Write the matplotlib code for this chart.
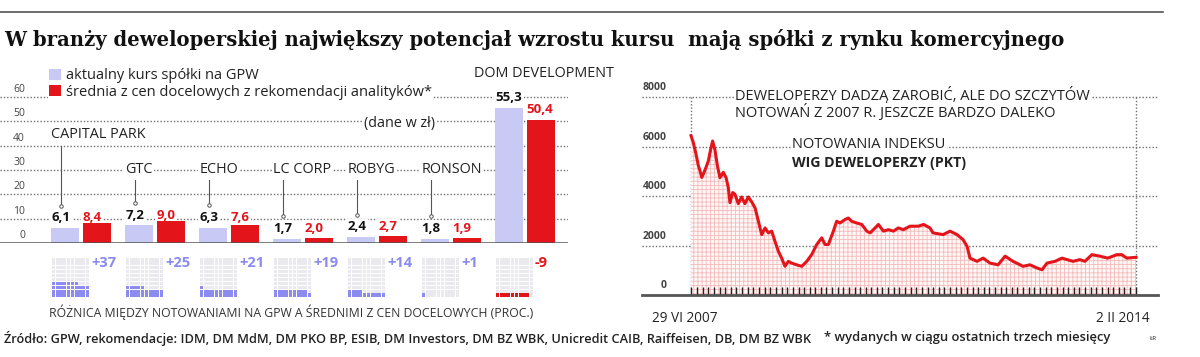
import numpy as np
import matplotlib
matplotlib.use("Agg")
import matplotlib.pyplot as plt
import matplotlib.dates as mdates
import matplotlib.transforms as mtrans
from datetime import date

plt.rcParams['font.family'] = ['Open Sans', 'DejaVu Sans']
plt.rcParams['hatch.linewidth'] = 0.6

# ---- data ----
companies = ["CAPITAL PARK", "GTC", "ECHO", "LC CORP", "ROBYG", "RONSON", "DOM DEVELOPMENT"]
price_now = [6.1, 7.2, 6.3, 1.7, 2.4, 1.8, 55.3]
price_target = [8.4, 9.0, 7.6, 2.0, 2.7, 1.9, 50.4]
upside = [37, 25, 21, 19, 14, 1, -9]
yticks_left = [0, 10, 20, 30, 40, 50, 60]

wig_dates = [
    "2007-06-29", "2007-07-11", "2007-07-26", "2007-08-08", "2007-08-17", "2007-08-26",
    "2007-09-04", "2007-09-18", "2007-10-01", "2007-10-14", "2007-10-24", "2007-11-06",
    "2007-11-19", "2007-12-03", "2007-12-21", "2008-01-05", "2008-01-17", "2008-01-26",
    "2008-02-10", "2008-02-22", "2008-03-11", "2008-03-29", "2008-04-16", "2008-05-04",
    "2008-05-23", "2008-06-10", "2008-06-28", "2008-07-16", "2008-08-03", "2008-08-21",
    "2008-09-08", "2008-09-26", "2008-10-14", "2008-11-01", "2008-11-19", "2008-12-07",
    "2008-12-25", "2009-01-21", "2009-02-18", "2009-03-17", "2009-04-13", "2009-05-10",
    "2009-06-06", "2009-06-24", "2009-07-12", "2009-08-08", "2009-08-26", "2009-09-13",
    "2009-10-10", "2009-10-28", "2009-11-15", "2009-12-12", "2010-01-09", "2010-02-05",
    "2010-02-23", "2010-03-22", "2010-04-09", "2010-05-06", "2010-06-02", "2010-06-29",
    "2010-07-26", "2010-08-22", "2010-09-27", "2010-11-11", "2010-12-10", "2011-01-13",
    "2011-01-30", "2011-03-25", "2011-05-02", "2011-06-09", "2011-07-11", "2011-08-02",
    "2011-08-18", "2011-09-25", "2011-10-28", "2011-12-04", "2012-01-17", "2012-02-24",
    "2012-04-07", "2012-05-31", "2012-07-08", "2012-08-15", "2012-09-11", "2012-10-08",
    "2012-11-20", "2012-12-28", "2013-01-24", "2013-02-26", "2013-04-04", "2013-05-01",
    "2013-06-08", "2013-07-21", "2013-09-02", "2013-10-21", "2013-11-17", "2013-12-14",
    "2014-01-27", "2014-02-02",
]
wig_values = [
    6440, 6170, 5700, 5220, 5010, 4750,
    4890, 5150, 5420, 5900, 6220, 5850,
    5220, 4740, 4960, 4740, 4340, 3730,
    4140, 4070, 3690, 3960, 3690, 3960,
    3760, 3520, 2980, 2440, 2710, 2510,
    2580, 2170, 1770, 1490, 1160, 1360,
    1290, 1220, 1160, 1360, 1640, 2040,
    2310, 2040, 2040, 2580, 2980, 2910,
    3050, 3110, 2980, 2910, 2850, 2580,
    2510, 2710, 2850, 2580, 2640, 2580,
    2710, 2640, 2780, 2780, 2850, 2710,
    2510, 2440, 2580, 2440, 2240, 1970,
    1490, 1360, 1490, 1290, 1220, 1570,
    1360, 1160, 1220, 1090, 1020, 1290,
    1360, 1490, 1430, 1360, 1430, 1360,
    1630, 1570, 1490, 1630, 1630, 1490,
    1520, 1520,
]
yticks_right = [0, 2000, 4000, 6000, 8000]

LILAC = "#c9c9f5"
LILAC_DOT = "#8b8bf0"
RED = "#e4141b"
GRID = "#6f6f6f"
DARK = "#222222"

W, H = 1200, 357
fig = plt.figure(figsize=(W / 100, H / 100), dpi=100)


def fx(px):
    return px / W


def fy(py):
    return 1 - py / H


def fmt(v):
    return f"{v:.1f}".replace(".", ",")


dotted = (0, (1, 1.4))
white_box = dict(facecolor="white", edgecolor="none", pad=1.0)

# top rule + title
fig.add_artist(plt.Line2D([0, fx(1163)], [fy(12), fy(12)], color="#555555", lw=1.2))
fig.text(fx(4), fy(40), "W branży deweloperskiej największy potencjał wzrostu kursu  mają spółki z rynku komercyjnego",
         family="DejaVu Serif", weight="bold", fontsize=14.1, va="center", ha="left", color="#111111")

# ---- left panel: bars ----
PX0, GROUP = 81, 74        # pixel centre of first group, pixels per group
PXU = 2.433                # pixels per 1 zl
ax = fig.add_axes([0, fy(243), 568 / W, (243 - 60) / H])
ax.set_xlim(-PX0 / GROUP, (568 - PX0) / GROUP)
ax.set_ylim(0, (243 - 60) / PXU)
ax.axis("off")

x = np.arange(len(companies))
off, bw = 0.21, 0.378
bars_now = ax.bar(x - off, price_now, width=bw, color=LILAC, zorder=2)
bars_tg = ax.bar(x + off, price_target, width=bw, color=RED, zorder=2)

for t in yticks_left[1:]:
    ax.axhline(t, color=GRID, ls=dotted, lw=1.0, zorder=0)
ax.axhline(0, color="#555555", lw=1.8, zorder=3)
tl = mtrans.blended_transform_factory(ax.transAxes, ax.transData)
for t in yticks_left:
    ax.text(25 / 568, t + 0.8, str(t), transform=tl, ha="right", va="bottom",
            fontsize=7.5, color="#444444", bbox=dict(facecolor="white", edgecolor="none", pad=0.3), zorder=4)

name_y = [44.4, 30.4, 30.4, 30.4, 30.4, 30.4, 69.5]
for i, name in enumerate(companies):
    left_now = x[i] - off - bw / 2
    left_tg = x[i] + off - bw / 2
    big = max(price_now[i], price_target[i]) > 20
    y_now = price_now[i] + 4.3
    y_tg = (price_target[i] if big else price_now[i]) + 4.3
    # labels sit under the bars so their white boxes never cut a bar top
    ax.text(left_now, y_now, fmt(price_now[i]), ha="left", va="center", fontsize=9.5,
            weight="bold", color="#111111", bbox=white_box, zorder=1.5)
    ax.text(left_tg, y_tg, fmt(price_target[i]), ha="left", va="center", fontsize=9.5,
            weight="bold", color=RED, bbox=white_box, zorder=1.5)
    if big:
        ax.text(left_now - 0.29, name_y[i], name, ha="left", va="center", fontsize=10.4,
                color=DARK, bbox=white_box, zorder=4, clip_on=False)
    else:
        ax.text(left_now, name_y[i], name, ha="left", va="center", fontsize=10.4,
                color=DARK, bbox=white_box, zorder=4)
        lx = left_now + 10 / GROUP
        ax.plot([lx, lx], [name_y[i] - 4.6, y_now + 5.0], color="#555555", lw=0.8, zorder=3)
        ax.plot([lx], [y_now + 5.0], marker="o", ms=2.5, mfc="white", mec="#555555", mew=0.7, zorder=3)

ax.text(400 / GROUP - PX0 / GROUP, (243 - 124) / PXU, "(dane w zł)", ha="center", va="center",
        fontsize=10.4, color=DARK, bbox=white_box, zorder=4)

ax.legend([bars_now, bars_tg],
          ["aktualny kurs spółki na GPW", "średnia z cen docelowych z rekomendacji analityków*"],
          loc="upper left", bbox_to_anchor=(fx(48), fy(67)), bbox_transform=fig.transFigure,
          frameon=True, framealpha=1, facecolor="white", edgecolor="none", fancybox=False,
          handlelength=0.8, handleheight=0.8, handletextpad=0.3, labelspacing=0.08,
          borderpad=0.1, borderaxespad=0, fontsize=10.5, labelcolor=DARK)

# ---- dot matrices ----
axd = fig.add_axes([0, fy(297), 568 / W, 39 / H])
axd.set_xlim(ax.get_xlim())
axd.set_ylim(0, 10)
axd.axis("off")
cw = 3.8 / GROUP
for i, u in enumerate(upside):
    left = x[i] - off - bw / 2
    n = abs(u)
    col = LILAC_DOT if u > 0 else RED
    cx, cy, cc = [], [], []
    for k in range(100):
        r, c = divmod(k, 10)
        cx.append(left + (c + 0.5) * cw)
        cy.append(r + 0.5)
        cc.append(col if k < n else "#e9e9ee")
    axd.scatter(cx, cy, s=5.0, marker="s", c=cc, linewidths=0)
    axd.text(left + 10 * cw + 1.5 / GROUP, 8.7, f"{u:+d}", ha="left", va="center",
             fontsize=10.5, weight="bold", color=LILAC_DOT if u > 0 else RED, clip_on=False)

fig.text(fx(291), fy(312), "RÓŻNICA MIĘDZY NOTOWANIAMI NA GPW A ŚREDNIMI Z CEN DOCELOWYCH (PROC.)",
         ha="center", va="center", fontsize=8.85, color="#333333")

# ---- right panel: index line ----
d = mdates.datestr2num(wig_dates)
d0, d1 = d[0], d[-1]
ppd = (1136 - 691) / (d1 - d0)
PXK = 24.75  # pixels per 1000 pts
axl = fig.add_axes([fx(642), fy(295), (1158 - 642) / W, (295 - 80) / H])
axl.set_xlim(d0 - (691 - 642) / ppd, d1 + (1158 - 1136) / ppd)
axl.set_ylim(0, (295 - 80) / PXK * 1000)
for s in ["top", "left", "right"]:
    axl.spines[s].set_visible(False)
axl.spines["bottom"].set_color("#555555")
axl.spines["bottom"].set_linewidth(2)
axl.set_yticks([])
months = [mdates.date2num(date(yy, mm, 1)) for yy in range(2007, 2015) for mm in range(1, 13)
          if date(2007, 7, 1) <= date(yy, mm, 1) <= date(2014, 2, 1)]
axl.set_xticks(months)
axl.set_xticklabels([])
axl.tick_params(axis="x", direction="in", length=6, width=1.0, color="#222222")

for t in yticks_right[1:]:
    axl.axhline(t, color=GRID, ls=dotted, lw=1.0, zorder=0)
axl.vlines([d0, d1], 0, 8000, color=GRID, ls=dotted, lw=1.0, zorder=0)
axl.fill_between(d, wig_values, 0, facecolor="#fff6f6", edgecolor="#f3bcbc", hatch="++++", lw=0, zorder=1)
axl.plot(d, wig_values, color=RED, lw=2.2, zorder=3)

tr = mtrans.blended_transform_factory(axl.transAxes, axl.transData)
for t in yticks_right:
    axl.text(25 / 516, t + 150, str(t), transform=tr, ha="right", va="bottom",
             fontsize=7.5, weight="bold", color="#444444",
             bbox=dict(facecolor="white", edgecolor="none", pad=0.3), zorder=4)

fig.text(fx(735), fy(95), "DEWELOPERZY DADZĄ ZAROBIĆ, ALE DO SZCZYTÓW", ha="left", va="center",
         fontsize=10.5, color=DARK, bbox=white_box)
fig.text(fx(735), fy(113), "NOTOWAŃ Z 2007 R. JESZCZE BARDZO DALEKO", ha="left", va="center",
         fontsize=10.5, color=DARK, bbox=white_box)
fig.text(fx(792), fy(145), "NOTOWANIA INDEKSU", ha="left", va="center",
         fontsize=10.5, color=DARK, bbox=white_box)
fig.text(fx(792), fy(163), "WIG DEWELOPERZY (PKT)", ha="left", va="center",
         fontsize=10.2, weight="bold", color=DARK, bbox=white_box)

fig.text(fx(685), fy(318), "29 VI 2007", ha="center", va="center", fontsize=9.8, color=DARK)
fig.text(fx(1150), fy(318), "2 II 2014", ha="right", va="center", fontsize=9.8, color=DARK)

# ---- footer ----
fig.text(fx(4), fy(338), "Źródło: GPW, rekomendacje: IDM, DM MdM, DM PKO BP, ESIB, DM Investors, DM BZ WBK, "
         "Unicredit CAIB, Raiffeisen, DB, DM BZ WBK", ha="left", va="center", fontsize=9.2,
         weight="semibold", color=DARK)
fig.text(fx(824), fy(338), "* wydanych w ciągu ostatnich trzech miesięcy", ha="left", va="center",
         fontsize=9.4, weight="semibold", color=DARK)
fig.text(fx(1150), fy(338), "ŁR", ha="left", va="center", fontsize=4.5, color=DARK)

fig.savefig("out.png", dpi=100, facecolor="white")
